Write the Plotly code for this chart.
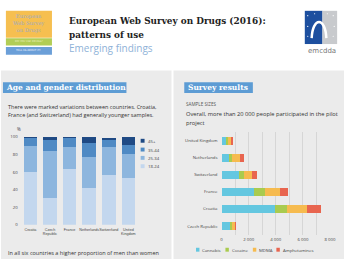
import plotly.graph_objects as go

W, H = 350, 262

# ---------------- data ----------------
age_countries = ["Croatia", "Czech<br>Republic", "France", "Netherlands", "Switzerland", "United<br>Kingdom"]
age_groups = ["18-24", "25-34", "35-44", "45+"]
age_18_24 = [60, 30, 64, 42, 57, 53]
age_25_34 = [30, 54, 25, 35, 31, 28]
age_35_44 = [9, 13, 10, 16, 9, 10]
age_45_plus = [1, 3, 1, 7, 1, 9]
age_ticks = [0, 20, 40, 60, 80, 100]

sample_countries = ["United Kingdom", "Netherlands", "Switzerland", "France", "Croatia", "Czech Republic"]
drugs = ["Cannabis", "Cocaine", "MDMA", "Amphetamines"]
cannabis = [300, 530, 1280, 2420, 3980, 600]
cocaine = [150, 240, 360, 770, 850, 170]
mdma = [280, 630, 600, 1090, 1450, 190]
amphetamines = [80, 290, 410, 600, 1090, 70]
sample_tickvals = [0, 2000, 4000, 6000, 8000]
sample_ticktext = ["0", "2 000", "4 000", "6 000", "8 000"]

# ---------------- styles ----------------
age_colors = ["#c3d7ee", "#8db6de", "#4f8ac4", "#1f4a84"]
drug_colors = ["#64c7e0", "#a9cb4f", "#f6bb4f", "#e8654f"]
PANEL = "#ebebeb"
TITLEBOX = "#5d9cd4"
TXT = "#333333"


def px(x):
    return x / W


def py(y):
    return 1 - y / H


fig = go.Figure()

age_series = [age_18_24, age_25_34, age_35_44, age_45_plus]
for name, vals, col in zip(age_groups, age_series, age_colors):
    fig.add_trace(go.Bar(x=age_countries, y=vals, name=name, marker_color=col,
                         marker_line_width=0, width=0.7, xaxis="x", yaxis="y",
                         showlegend=False))

drug_series = [cannabis, cocaine, mdma, amphetamines]
for name, vals, col in zip(drugs, drug_series, drug_colors):
    fig.add_trace(go.Bar(y=sample_countries, x=vals, name=name, orientation="h",
                         marker_color=col, marker_line_width=0, width=0.47,
                         xaxis="x2", yaxis="y2", showlegend=False))

shapes = []


def rect(x0, y0, x1, y1, color, layer="below"):
    shapes.append(dict(type="rect", xref="paper", yref="paper",
                       x0=px(x0), x1=px(x1), y0=py(y1), y1=py(y0),
                       fillcolor=color, line_width=0, layer=layer))


# panels
rect(0, 69, 174, 262, PANEL)
rect(176, 69, 350, 262, PANEL)
# header logo
rect(5, 8, 52, 35.5, "#f6bf50")
rect(5, 36, 52, 43.5, "#b2cd55")
rect(5, 45, 52, 53, "#6b9fd8")
# emcdda logo
rect(310, 8, 328, 42, "#1d4f9f", "above")
rect(328, 8, 343, 42, "#c8cacd", "above")
shapes.append(dict(type="path", xref="paper", yref="paper",
                   path="M %f,%f C %f,%f %f,%f %f,%f" % (
                       px(317), py(36), px(318), py(14), px(331), py(14), px(332), py(36)),
                   line=dict(color="white", width=2.5), layer="above"))
for (dx, dy, c) in [(313, 13, "white"), (313, 24, "white"), (313, 34, "white"), (320, 11, "white"),
                    (339, 13, "white"), (340, 24, "white"), (339, 34, "white"), (333, 11, "white")]:
    shapes.append(dict(type="circle", xref="paper", yref="paper",
                       x0=px(dx - 0.6), x1=px(dx + 0.6), y0=py(dy + 0.6), y1=py(dy - 0.6),
                       fillcolor=c, line_width=0, layer="above"))
# panel title boxes
rect(2, 81, 128, 92, TITLEBOX)
rect(187, 81, 257, 92, TITLEBOX)

annotations = []


def text(x, y, s, size, color=TXT, family="Open Sans", xanchor="left", align="left"):
    annotations.append(dict(xref="paper", yref="paper", x=px(x), y=py(y), text=s,
                            showarrow=False, xanchor=xanchor, yanchor="middle", align=align,
                            font=dict(size=size, color=color, family=family)))


# header
text(28.5, 21, "European<br>Web Survey<br>on Drugs", 5.2, "#9aaac4", "DejaVu Serif", "center", "center")
text(28.5, 39.8, "DO YOU USE DRUGS?", 2.6, "#eef2c0", "DejaVu Sans", "center")
text(28.5, 49, "TELL US ABOUT IT!", 2.6, "#f0f4ff", "DejaVu Sans", "center")
text(67, 18.5, "<b>European Web Survey on Drugs (2016):</b>", 8.9, "#222222", "DejaVu Serif")
text(67, 32.5, "<b>patterns of use</b>", 8.9, "#222222", "DejaVu Serif")
text(67, 46, "Emerging findings", 10, "#8fb2d8", "Open Sans")
text(327.5, 49.5, "emcdda", 7, "#777777", "DejaVu Sans", "center")

# left panel texts
text(3.5, 86.8, "<b>Age and gender distribution</b>", 7.5, "white", "DejaVu Serif")
text(5, 106, "There were marked variations between countries. Croatia,", 5.5)
text(5, 115, "France (and Switzerland) had generally younger samples.", 5.5)
text(14, 129, "%", 4.5, "#444444")
text(5, 256, "In all six countries a higher proportion of men than women", 5.5)

# left legend
leg_y = [167, 158.5, 150, 141]
for g, col, yy in zip(age_groups, age_colors, leg_y):
    rect(142.5, yy - 2, 146.5, yy + 2, col, "above")
    text(148, yy, g, 4.3, "#444444")

# right panel texts
text(188.5, 86.8, "<b>Survey results</b>", 7.5, "white", "DejaVu Serif")
text(186.5, 103, "SAMPLE SIZES", 4.6, "#555555")
text(187, 114, "Overall, more than 20 000 people participated in the pilot", 5.7)
text(187, 122.5, "project", 5.7)

# right legend
leg_x = [199, 229, 257, 281]
for d, col, xx in zip(drugs, drug_colors, leg_x):
    rect(xx, 250.5, xx + 3.5, 254.5, col, "above")
    text(xx + 4.5, 252.5, d, 4.3, "#444444")

fig.update_layout(
    width=W, height=H, margin=dict(l=0, r=0, t=0, b=0),
    paper_bgcolor="white", plot_bgcolor="rgba(0,0,0,0)",
    barmode="stack", shapes=shapes, annotations=annotations,
    font=dict(family="Open Sans", size=5, color="#444444"),
    xaxis=dict(domain=[px(20), px(140)], anchor="y", showgrid=False, zeroline=False,
               showline=False, ticks="", tickangle=0,
               tickfont=dict(size=3.7, color="#444444", family="Liberation Sans Narrow, Liberation Sans"),
               ticklabelstandoff=1, fixedrange=True),
    yaxis=dict(domain=[py(227), py(137)], anchor="x", range=[0, 100], tickvals=age_ticks,
               showgrid=False, zeroline=False, showline=False, ticks="",
               tickfont=dict(size=4.3, color="#444444"), ticklabelstandoff=2),
    xaxis2=dict(domain=[px(225), px(335.7)], anchor="y2", range=[0, 8000],
                tickvals=sample_tickvals, ticktext=sample_ticktext, tickangle=0,
                showgrid=True, gridcolor="#d6d6d6", gridwidth=0.6, zeroline=False,
                showline=False, ticks="", tickfont=dict(size=4.3, color="#444444"),
                minor=dict(dtick=1000, showgrid=True, gridcolor="#d6d6d6", gridwidth=0.6),
                ticklabelstandoff=1),
    yaxis2=dict(domain=[py(237), py(132)], anchor="x2", autorange="reversed",
                showgrid=False, zeroline=False, showline=False, ticks="",
                tickfont=dict(size=4.3, color="#444444"), ticklabelstandoff=3),
)

fig.write_html("out.html")
